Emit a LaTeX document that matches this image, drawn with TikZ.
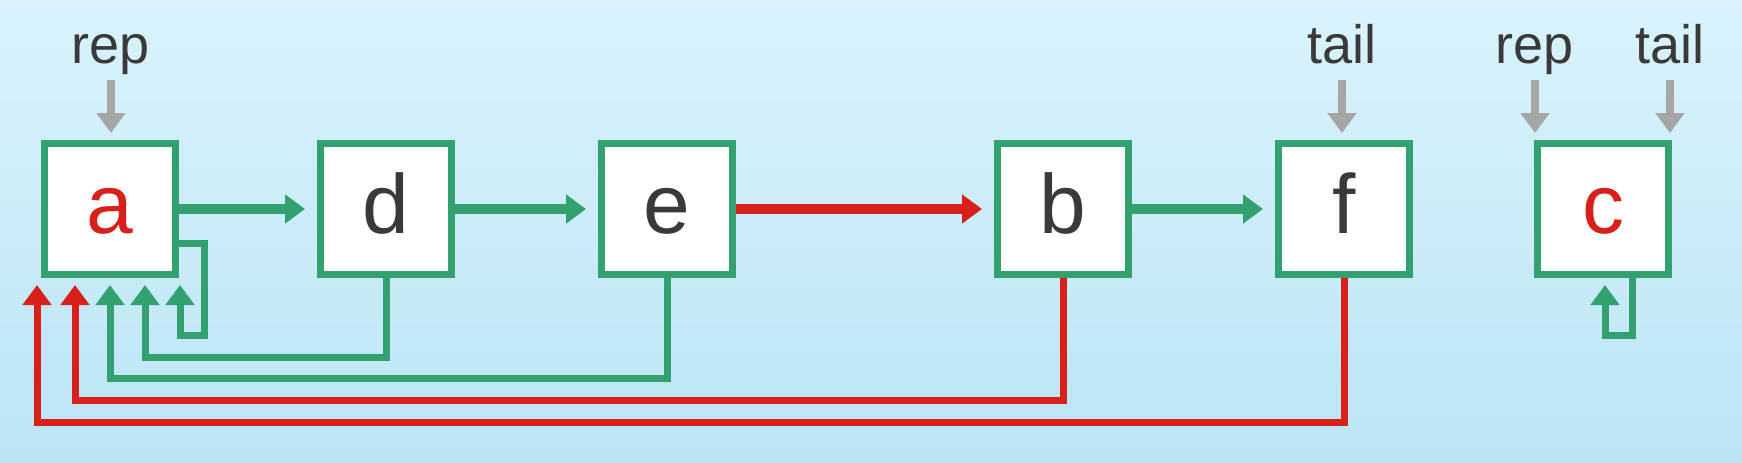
\documentclass[tikz,border=0pt]{standalone}
\usepackage{fontspec}
\setmainfont{Liberation Sans}
\usetikzlibrary{arrows.meta, calc}
\definecolor{verdeLista}{HTML}{33A06F}
\definecolor{rojoLista}{HTML}{D7201A}
\definecolor{grisPuntero}{HTML}{A6A6A6}
\definecolor{textoNodo}{HTML}{3A3A3A}
\definecolor{fondoArriba}{HTML}{DAF3FC}
\definecolor{fondoAbajo}{HTML}{BBE4F5}

\begin{document}
\begin{tikzpicture}[x=0.5pt, y=-0.5pt,
        elem/.style={draw=verdeLista, line width=3.5pt, fill=white, minimum size=65.5pt,
            inner sep=0pt, text height=24pt, text depth=0pt, text=textoNodo,
            font=\fontsize{42}{42}\selectfont},
        etq/.style={anchor=base, inner sep=0pt, text=textoNodo, font=\fontsize{27}{30}\selectfont},
        sig/.style={-{Triangle[width=14pt, length=10pt]}, line width=5pt, shorten >=6pt},
        vuelta/.style={-{Triangle[width=14pt, length=10pt]}, line width=3.5pt},
        ptr/.style={-{Triangle[width=14pt, length=10pt]}, line width=4pt, grisPuntero, shorten >=3.5pt}]
        \fill[top color=fondoArriba, bottom color=fondoAbajo] (0,0) rectangle (1742,462);
        \node[elem, text=rojoLista] (a) at (110,209)  {a};
        \node[elem] (d) at (386,209)  {d};
        \node[elem] (e) at (667,209)  {e};
        \node[elem] (b) at (1063,209) {b};
        \node[elem] (f) at (1344,209) {f};
        \node[elem, text=rojoLista] (c) at (1603,209) {c};
        \node[etq] (r1) at (111,63)  {rep};
        \node[etq] (t1) at (1342,63) {tail};
        \node[etq] (r2) at (1535,63) {rep};
        \node[etq] (t2) at (1670,63) {tail};
        \foreach \p/\n in {r1/a, t1/f, r2/c, t2/c}
            \draw[ptr] ([yshift=-8.5pt]\p.base) -- (\p.base |- \n.north);
        \draw[sig, verdeLista] (a) -- (d);
        \draw[sig, verdeLista] (d) -- (e);
        \draw[sig, rojoLista] (e) -- (b);
        \draw[sig, verdeLista] (b) -- (f);
        % enlaces hacia el representante
        \draw[vuelta, verdeLista] ([yshift=-17pt]a.east) -- ++(25,0) -- ++(0,92)
            -| ([xshift=35pt, yshift=-3.5pt]a.south);
        \foreach \n/\caida/\dx/\col in {d/79/17.5/verdeLista, e/100/0/verdeLista,
                b/122/-17.5/rojoLista, f/144/-36.5/rojoLista}
            \draw[vuelta, \col] (\n.south) -- ++(0,\caida) -| ([xshift=\dx pt, yshift=-3.5pt]a.south);
        \draw[vuelta, verdeLista] ([xshift=14.5pt]c.south) -- ++(0,57)
            -| ([xshift=1pt, yshift=-3.5pt]c.south);
    \end{tikzpicture}
\end{document}
